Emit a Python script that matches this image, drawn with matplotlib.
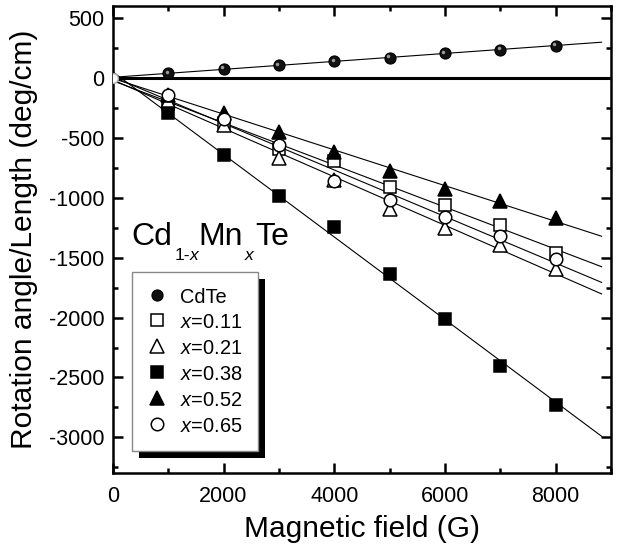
import matplotlib.pyplot as plt
import numpy as np
from matplotlib.ticker import MultipleLocator
from matplotlib.transforms import offset_copy
from matplotlib.patches import Rectangle

plt.rcParams['font.family'] = ['Liberation Sans', 'DejaVu Sans']
plt.rcParams['mathtext.fontset'] = 'custom'
plt.rcParams['mathtext.rm'] = 'Liberation Sans'
plt.rcParams['mathtext.it'] = 'Liberation Sans:italic'
plt.rcParams['axes.unicode_minus'] = False

# magnetic field (G) and rotation per length (deg/cm)
field = [1000, 2000, 3000, 4000, 5000, 6000, 7000, 8000]
cdte = [40, 75, 105, 140, 170, 205, 235, 270]
x011 = [-215, -380, -592, -694, -911, -1064, -1225, -1458]
x021 = [-190, -390, -667, -850, -1092, -1253, -1397, -1592]
x038 = [-289, -642, -984, -1248, -1637, -2010, -2407, -2730]
x052 = [-140, -289, -450, -622, -781, -925, -1031, -1169]
x065 = [-144, -345, -556, -864, -1020, -1161, -1319, -1508]
fit_range = [0, 8830]

fig = plt.figure(figsize=(6.2, 5.47), dpi=100)
ax = fig.add_axes([0.182, 0.1347, 0.8035, 0.8543])

# linear fits through the origin point
fx = np.array(fit_range)
for vals in [cdte, x011, x021, x038, x052, x065]:
    coef = np.polyfit([0] + field, [0] + vals, 1)
    ax.plot(fx, np.polyval(coef, fx), color='black', lw=0.8, zorder=2)

ax.axhline(0, color='black', lw=2.2, zorder=2)

# origin point
ax.plot([0], [0], ls='none', marker='o', ms=7, mfc='white', mec='#aaaaaa', mew=1, zorder=3)

ball, = ax.plot(field, cdte, ls='none', marker='o', ms=8, mfc='#111111', mec='black', mew=0.8, zorder=3)
shine = offset_copy(ax.transData, fig=fig, x=-1.5, y=1.5, units='dots')
ax.plot(field, cdte, ls='none', marker='o', ms=2.5, mfc='#9a9a9a', mec='none', zorder=3.5, transform=shine)

kw = dict(ls='none', mec='black', mew=1.1, zorder=3)
h011, = ax.plot(field, x011, marker='s', ms=8, mfc='white', **kw)
h021, = ax.plot(field, x021, marker='^', ms=10, mfc='white', **kw)
h038, = ax.plot(field, x038, marker='s', ms=8, mfc='black', **kw)
h052, = ax.plot(field, x052, marker='^', ms=10, mfc='black', **kw)
h065, = ax.plot(field, x065, marker='o', ms=9, mfc='white', **kw)

ax.set_xlim(0, 9000)
ax.set_ylim(-3300, 600)
ax.xaxis.set_major_locator(MultipleLocator(2000))
ax.xaxis.set_minor_locator(MultipleLocator(1000))
ax.yaxis.set_major_locator(MultipleLocator(500))
ax.yaxis.set_minor_locator(MultipleLocator(250))
ax.tick_params(which='both', direction='in', top=True, right=True, width=1.8, labelsize=15.5)
ax.tick_params(which='major', length=7)
ax.tick_params(which='minor', length=3.6)
ax.tick_params(axis='x', pad=9)
ax.tick_params(axis='y', pad=6)
for s in ax.spines.values():
    s.set_linewidth(1.8)

ax.set_xlabel('Magnetic field (G)', fontsize=21.5, labelpad=6)
ax.set_ylabel('Rotation angle/Length (deg/cm)', fontsize=21.5, labelpad=8)

# Cd1-xMnxTe built piece by piece so the subscripts sit low
big, small, drop = 23, 12.5, 11
prev = ax.text(0.0376, 0.4886, 'Cd', transform=ax.transAxes, fontsize=big, va='baseline', ha='left')
pieces = [('1-', small, 'normal', 2, -drop), ('x', small, 'italic', 0, 0),
          ('Mn', big, 'normal', 0, drop), ('x', small, 'italic', 2, -drop),
          ('Te', big, 'normal', 1, drop)]
for txt, size, style, dx, dy in pieces:
    prev = ax.annotate(txt, xy=(1, 0), xycoords=prev, xytext=(dx, dy), textcoords='offset pixels',
                       fontsize=size, fontstyle=style, va='bottom', ha='left')

leg = ax.legend([ball, h011, h021, h038, h052, h065],
                ['CdTe', '$x$=0.11', '$x$=0.21', '$x$=0.38', '$x$=0.52', '$x$=0.65'],
                loc='upper left', bbox_to_anchor=(0.0388, 0.4314), borderaxespad=0,
                fontsize=14.4, numpoints=1, fancybox=False, framealpha=1,
                edgecolor='#888888', borderpad=0.75, labelspacing=0.3,
                handlelength=1.0, handleheight=1.0, handletextpad=0.65)
leg.get_frame().set_linewidth(1.0)
leg.set_zorder(5)

fig.canvas.draw()
bb = leg.get_window_extent()
shadow = Rectangle((bb.x0 + 7, bb.y0 - 7), bb.width, bb.height, transform=None,
                   facecolor='black', edgecolor='none', zorder=4.9)
ax.add_artist(shadow)

fig.savefig('out.png', dpi=100)
